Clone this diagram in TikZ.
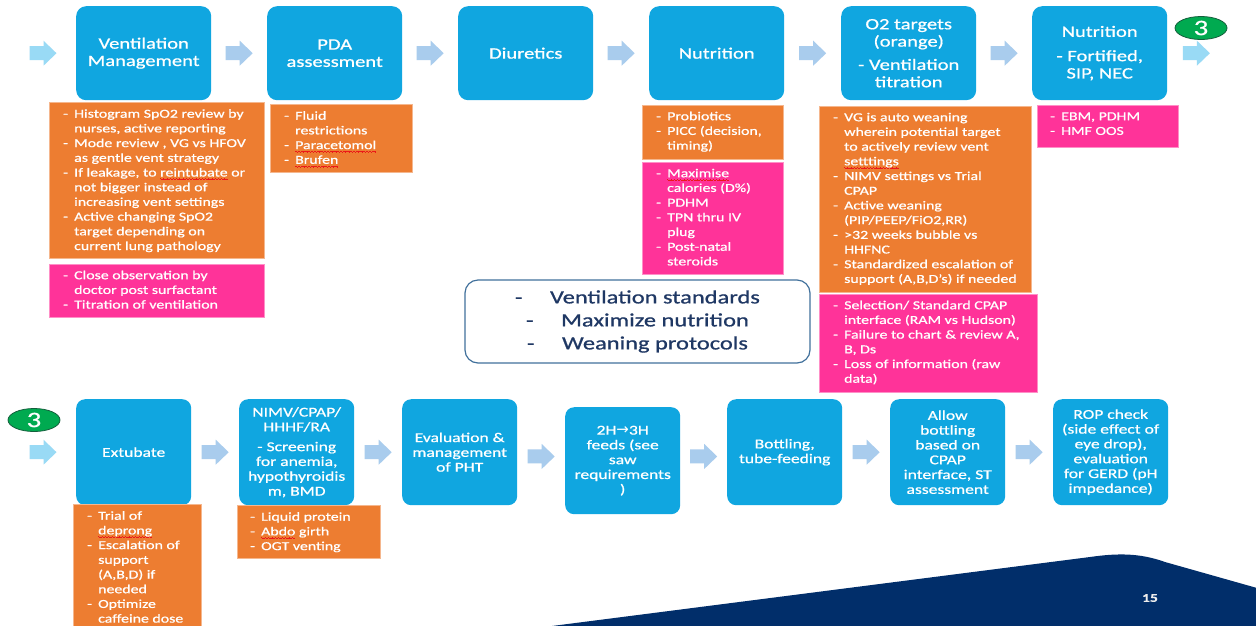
\documentclass[tikz,border=0pt]{standalone}
\usepackage{fontspec}
\setmainfont{Carlito}[FakeStretch=1.3,FakeBold=0.8]
\newfontfamily\arrglyph{DejaVu Sans}
\usetikzlibrary{shapes.geometric,calc}
\definecolor{boxblue}{RGB}{16,166,224}
\definecolor{boxorange}{RGB}{237,125,49}
\definecolor{boxpink}{RGB}{255,51,153}
\definecolor{arrowcyan}{RGB}{153,218,245}
\definecolor{arrowblue}{RGB}{169,204,237}
\definecolor{ellgreen}{RGB}{0,170,80}
\definecolor{ellline}{RGB}{20,95,60}
\definecolor{navytext}{RGB}{31,56,100}
\definecolor{frameblue}{RGB}{65,113,156}
\definecolor{navyshape}{RGB}{1,46,106}
\definecolor{spellred}{RGB}{235,25,25}
\newcommand\wavepiece{\hbox{\rule[-2.4pt]{0.8pt}{0.7pt}\rule[-3.0pt]{0.8pt}{0.7pt}\rule[-3.6pt]{0.8pt}{0.7pt}\rule[-3.0pt]{0.8pt}{0.7pt}}}
\newcommand\spell[1]{\setbox0\hbox{#1}\rlap{\color{spellred}\hbox to \wd0{\xleaders\wavepiece\hfil}}\box0\relax}
\newcommand\bitem{\rule{0pt}{10pt}\makebox[11pt][l]{-}}
\newcommand\bcont{\hspace*{11pt}}
\newcommand\ctrline[1]{\makebox[35pt][l]{-}#1}
\begin{document}
\begin{tikzpicture}[x=1pt,y=-1pt,
  bluebox/.style={fill=boxblue, rounded corners=10pt, text=white, align=center, inner sep=0pt, anchor=north west},
  topfont/.style={font=\fontsize{15.8}{17.3}\selectfont},
  botfont/.style={font=\fontsize{13.5}{14.8}\selectfont},
  obox/.style={fill=boxorange, draw=boxorange!55!white, line width=0.7pt, anchor=north west, inner sep=0pt},
  pbox/.style={fill=boxpink, draw=boxpink!55!white, line width=0.7pt, anchor=north west, inner sep=0pt},
  listtext/.style={anchor=north west, inner sep=0pt, align=left, text=white, font=\fontsize{12.2}{14.7}\selectfont},
  greenell/.style={ellipse, fill=ellgreen, draw=ellline, line width=0.8pt, minimum width=52pt, minimum height=23pt, inner sep=0pt, text=white, font=\fontsize{22}{22}\selectfont},
  barrow/.pic={\fill[#1] (-13.5,-7) -- (0.5,-7) -- (0.5,-12.5) -- (13.5,0) -- (0.5,12.5) -- (0.5,7) -- (-13.5,7) -- cycle;},
]
\useasboundingbox (0,0) rectangle (1256,625);
\fill[white] (0,0) rectangle (1256,625);

% bottom decorative shape
\fill[navyshape] (552,626) -- (1090,557) .. controls (1118,553) and (1140,553) .. (1165,562) -- (1257,588) -- (1257,626) -- cycle;
\node[text=white!85!gray, font=\bfseries\fontsize{12}{12}\selectfont] (pg) at (1150,598) {15};

% ---------------- top row ----------------
\node[bluebox, topfont, minimum width=135pt, minimum height=94pt] (b1) at (76,6) {Ventilation\\Management};
\node[bluebox, topfont, minimum width=135pt, minimum height=94pt] (b2) at (267,6) {PDA\\assessment};
\node[bluebox, topfont, minimum width=135pt, minimum height=94pt] (b3) at (458,6) {Diuretics};
\node[bluebox, topfont, minimum width=135pt, minimum height=94pt] (b4) at (649,6) {Nutrition};
\node[bluebox, topfont, minimum width=135pt, minimum height=94pt] (b5) at (841,6) {O2 targets\\(orange)\\[6pt]- Ventilation\\titration};
\node[bluebox, topfont, minimum width=135pt, minimum height=94pt] (b6) at (1032,6) {Nutrition\\[7pt]- Fortified,\\SIP, NEC};

\pic at ($(b1.west)+(-33,0)$) {barrow=arrowcyan};
\pic at ($(b1.east)!0.5!(b2.west)$) {barrow=arrowblue};
\pic at ($(b2.east)!0.5!(b3.west)$) {barrow=arrowblue};
\pic at ($(b3.east)!0.5!(b4.west)$) {barrow=arrowblue};
\pic at ($(b4.east)!0.5!(b5.west)$) {barrow=arrowblue};
\pic at ($(b5.east)!0.5!(b6.west)$) {barrow=arrowblue};
\pic at ($(b6.east)+(29,0)$) {barrow=arrowcyan};

\node[greenell] (g1) at (1201,28) {3};

% orange / pink lists, top row
\node[obox, minimum width=215pt, minimum height=156pt] (o1) at (49,102) {};
\node[listtext] (t1) at ([shift={(14,5.5)}]o1.north west) {%
\bitem Histogram SpO2 review by\\\bcont nurses, active reporting\\
\bitem Mode review , VG vs HFOV\\\bcont as gentle vent strategy\\
\bitem If leakage, to \spell{reintubate} or\\\bcont not bigger instead of\\\bcont increasing vent settings\\
\bitem Active changing SpO2\\\bcont target depending on\\\bcont current lung pathology};

\node[pbox, minimum width=215pt, minimum height=53pt] (p1) at (49,264) {};
\node[listtext] (t2) at ([shift={(14,5)}]p1.north west) {%
\bitem Close observation by\\\bcont doctor post surfactant\\
\bitem Titration of ventilation};

\node[obox, minimum width=142pt, minimum height=68pt] (o2) at (270,104) {};
\node[listtext] (t3) at ([shift={(14,5.5)}]o2.north west) {%
\bitem Fluid\\\bcont restrictions\\
\bitem \spell{Paracetomol}\\
\bitem \spell{Brufen}};

\node[obox, minimum width=141pt, minimum height=54pt] (o3) at (642,105) {};
\node[listtext] (t4) at ([shift={(14,5)}]o3.north west) {%
\bitem Probiotics\\
\bitem PICC (decision,\\\bcont timing)};

\node[pbox, minimum width=141pt, minimum height=112pt] (p3) at (642,162) {};
\node[listtext] (t5) at ([shift={(14,5)}]p3.north west) {%
\bitem \spell{Maximise}\\\bcont calories (D\%)\\
\bitem PDHM\\
\bitem TPN thru IV\\\bcont plug\\
\bitem Post-natal\\\bcont steroids};

\node[obox, minimum width=212pt, minimum height=186pt] (o4) at (819,106) {};
\node[listtext] (t6) at ([shift={(14,5)}]o4.north west) {%
\bitem VG is auto weaning\\\bcont wherein potential target\\\bcont to actively review vent\\\bcont \spell{setttings}\\
\bitem NIMV settings vs Trial\\\bcont CPAP\\
\bitem Active weaning\\\bcont (PIP/PEEP/FiO2,RR)\\
\bitem >32 weeks bubble vs\\\bcont HHFNC\\
\bitem Standardized escalation of\\\bcont support (A,B,D’s) if needed};

\node[pbox, minimum width=218pt, minimum height=98pt] (p4) at (819,294) {};
\node[listtext] (t7) at ([shift={(14,5)}]p4.north west) {%
\bitem Selection/ Standard CPAP\\\bcont interface (RAM vs Hudson)\\
\bitem Failure to chart \& review A,\\\bcont B, Ds\\
\bitem Loss of information (raw\\\bcont data)};

\node[pbox, minimum width=141pt, minimum height=42pt] (p6) at (1037,105) {};
\node[listtext] (t8) at ([shift={(13,5)}]p6.north west) {%
\bitem EBM, PDHM\\
\bitem HMF OOS};

% centre box
\node[draw=frameblue, line width=1.2pt, fill=white, rounded corners=13pt, minimum width=345pt, minimum height=83pt, align=center, text=navytext, font=\fontsize{18.8}{23}\selectfont, inner sep=0pt] (c1) at (637.5,321.5) {%
\ctrline{Ventilation standards}\\
\ctrline{Maximize nutrition}\\
\ctrline{Weaning protocols}};

% ---------------- bottom row ----------------
\node[bluebox, botfont, rounded corners=9pt, minimum width=115pt, minimum height=106pt] (e1) at (76,399) {Extubate};
\node[bluebox, botfont, rounded corners=9pt, minimum width=115pt, minimum height=106pt] (e2) at (239,399) {NIMV/CPAP/\\HHHF/RA\\[5pt]- Screening\\for anemia,\\hypothyroidis\\m, BMD};
\node[bluebox, botfont, rounded corners=9pt, minimum width=115pt, minimum height=106pt] (e3) at (402,399) {Evaluation \&\\management\\of PHT};
\node[bluebox, botfont, rounded corners=9pt, minimum width=115pt, minimum height=107pt] (e4) at (565,407) {2H{\arrglyph\fontsize{15}{12}\selectfont →}3H\\feeds (see\\saw\\requirements\\)};
\node[bluebox, botfont, rounded corners=9pt, minimum width=115pt, minimum height=106pt] (e5) at (727,399) {Bottling,\\tube-feeding};
\node[bluebox, botfont, rounded corners=9pt, minimum width=115pt, minimum height=106pt] (e6) at (890,399) {Allow\\bottling\\based on\\CPAP\\interface, ST\\assessment};
\node[bluebox, botfont, rounded corners=9pt, minimum width=115pt, minimum height=106pt] (e7) at (1053,399) {ROP check\\(side effect of\\eye drop),\\evaluation\\for GERD (pH\\impedance)};

\pic at ($(e1.west)+(-33,0)$) {barrow=arrowcyan};
\pic at ($(e1.east)!0.5!(e2.west)$) {barrow=arrowblue};
\pic at ($(e2.east)!0.5!(e3.west)$) {barrow=arrowblue};
\pic at ($(e3.east)!0.5!(e4.west)$) {barrow=arrowblue};
\pic at ($(e4.east)!0.5!(e5.west)$) {barrow=arrowblue};
\pic at ($(e5.east)!0.5!(e6.west)$) {barrow=arrowblue};
\pic at ($(e6.east)!0.5!(e7.west)$) {barrow=arrowblue};

\node[greenell] (g2) at (34,420) {3};

\node[obox, minimum width=128pt, minimum height=124pt] (o5) at (73,504) {};
\node[listtext] (t9) at ([shift={(14,5.5)}]o5.north west) {%
\bitem Trial of\\\bcont \spell{deprong}\\
\bitem Escalation of\\\bcont support\\\bcont (A,B,D) if\\\bcont needed\\
\bitem Optimize\\\bcont caffeine dose};

\node[obox, minimum width=143pt, minimum height=53pt] (o6) at (237,505) {};
\node[listtext] (t10) at ([shift={(13,5.5)}]o6.north west) {%
\bitem Liquid protein\\
\bitem \spell{Abdo} girth\\
\bitem OGT venting};
\end{tikzpicture}
\end{document}
